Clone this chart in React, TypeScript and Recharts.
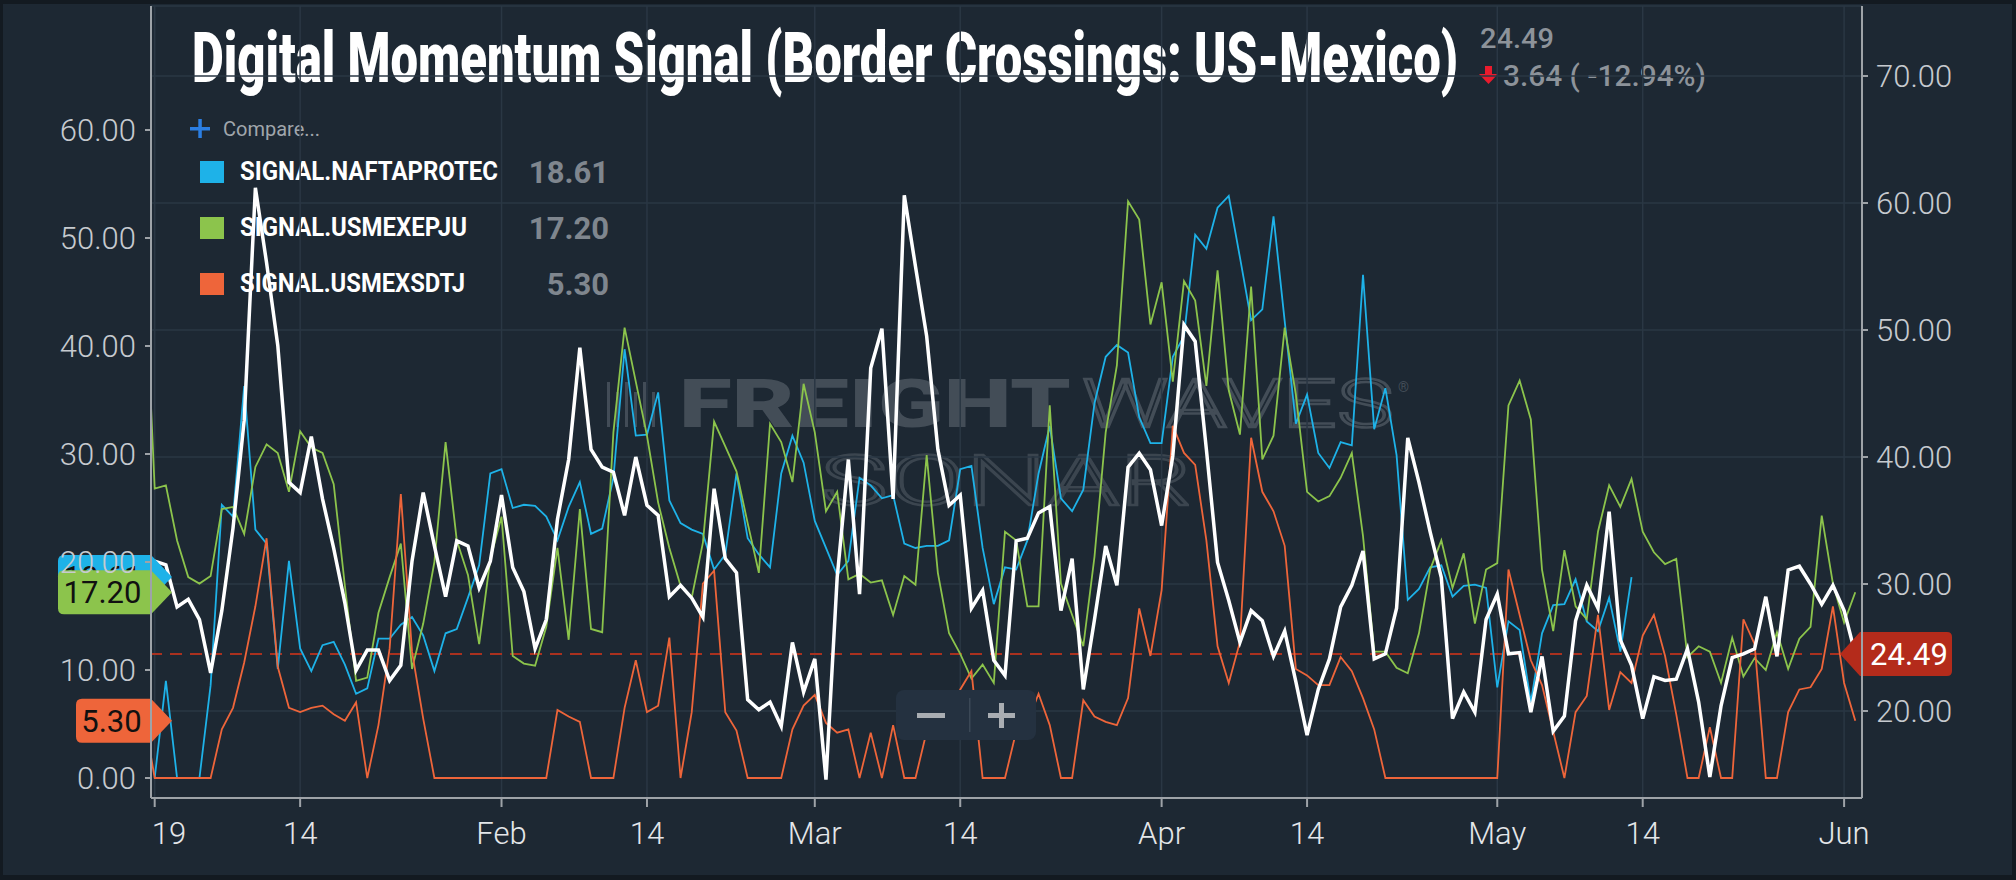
import React from 'react';
import { LineChart, Line, XAxis, YAxis, CartesianGrid, ReferenceLine } from 'recharts';

// day index counted from Jan 1 2019 (the first row, Dec 31, sits just left of the window)
const DAYS = Array.from({ length: 154 }, (_, i) => i - 1);

const X_TICKS = [0, 13, 31, 44, 59, 72, 90, 103, 120, 133, 151];
const X_LABELS = ['19', '14', 'Feb', '14', 'Mar', '14', 'Apr', '14', 'May', '14', 'Jun'];
const LEFT_TICKS = [0, 10, 20, 30, 40, 50, 60];
const RIGHT_TICKS = [20, 30, 40, 50, 60, 70];

// Digital Momentum Signal, right scale
const MOMENTUM = [
  null,
  31.8, 31.5, 28.2, 28.8, 27.2, 23.0, 27.9, 34.4, 42.9, 61.2,
  55.3, 48.8, 38.0, 37.2, 41.6, 36.7, 32.8, 28.5, 23.2, 24.8,
  24.8, 22.4, 23.6, 31.8, 37.2, 33.0, 29.0, 33.4, 33.0, 29.7,
  31.8, 37.0, 31.3, 29.4, 24.9, 27.2, 35.1, 39.8, 48.6, 40.6,
  39.2, 38.8, 35.4, 40.0, 36.2, 35.4, 29.0, 29.9, 28.9, 27.4,
  37.5, 32.0, 30.9, 20.9, 20.1, 20.7, 18.8, 25.4, 21.5, 24.1,
  14.6, 30.5, 39.8, 29.2, 47.0, 50.1, 36.7, 60.6, 55.0, 49.5,
  40.6, 36.2, 37.0, 28.1, 29.5, 24.0, 22.8, 33.4, 33.6, 35.6,
  36.1, 27.9, 32.0, 21.7, 27.2, 33.0, 29.9, 39.2, 40.3, 39.0,
  34.6, 40.1, 50.4, 49.1, 40.6, 31.7, 28.7, 25.4, 27.9, 27.1,
  24.3, 26.3, 22.3, 18.1, 21.7, 24.1, 28.2, 29.9, 32.6, 24.1,
  24.5, 28.1, 41.5, 38.0, 34.1, 30.5, 19.4, 21.5, 19.9, 27.2,
  29.2, 24.5, 24.6, 19.9, 24.3, 18.4, 19.6, 27.1, 29.9, 28.1,
  35.7, 25.6, 23.6, 19.4, 22.7, 22.4, 22.5, 24.9, 20.7, 14.8,
  20.4, 24.2, 24.5, 24.9, 29.0, 24.3, 31.1, 31.4, 30.0, 28.4,
  29.9, 27.9, 24.49,
];

// SIGNAL.NAFTAPROTEC, left scale (ends May 13)
const NAFTAPROTEC = [
  null,
  0, 9.0, 0, 0, 0, 8.6, 25.3, 24.2, 36.3, 23.0,
  21.7, 10.1, 20.1, 12.0, 9.9, 12.3, 12.6, 10.5, 7.8, 8.3,
  12.9, 12.9, 14.2, 14.9, 13.2, 9.9, 13.4, 13.8, 16.7, 19.7,
  28.2, 28.6, 25.0, 25.3, 25.2, 24.2, 22.0, 25.1, 27.4, 22.6,
  23.1, 27.8, 39.7, 31.7, 31.8, 35.7, 25.7, 23.6, 23.0, 22.6,
  19.3, 20.7, 28.2, 22.2, 20.7, 19.5, 28.2, 31.7, 29.2, 23.8,
  21.3, 18.8, 20.1, 27.8, 27.1, 25.9, 26.2, 21.7, 21.3, 21.5,
  21.5, 22.0, 28.6, 28.9, 21.3, 16.1, 19.5, 19.3, 22.0, 28.2,
  32.6, 25.9, 24.7, 26.7, 34.7, 39.0, 40.1, 39.4, 33.4, 31.0,
  31.0, 39.0, 40.9, 50.3, 49.0, 52.8, 53.9, 48.2, 42.4, 43.4,
  52.0, 42.3, 32.8, 35.5, 30.1, 28.7, 31.1, 30.8, 46.6, 32.3,
  36.1, 29.9, 16.5, 17.5, 19.5, 19.7, 16.8, 17.8, 17.9, 17.6,
  8.4, 14.5, 13.7, 7.0, 13.4, 16.0, 16.1, 18.4, 14.5, 13.6,
  16.7, 11.7, 18.61,
];

// SIGNAL.USMEXEPJU, left scale
const USMEXEPJU = [
  50,
  26.8, 27.1, 22.0, 18.6, 18.0, 18.7, 24.9, 25.1, 22.6, 28.8,
  30.9, 30.1, 26.5, 32.1, 30.6, 30.1, 27.2, 17.8, 9.0, 9.3,
  15.3, 18.6, 21.7, 10.1, 14.3, 20.0, 31.1, 22.0, 18.8, 12.4,
  20.3, 24.2, 11.3, 10.6, 10.4, 14.0, 21.3, 12.8, 24.9, 13.8,
  13.5, 32.0, 41.7, 36.7, 31.7, 25.5, 21.3, 17.8, 16.7, 21.8,
  33.0, 30.7, 28.4, 23.6, 19.0, 32.8, 31.1, 27.4, 36.5, 32.0,
  24.7, 26.5, 18.4, 18.9, 18.1, 18.3, 15.1, 18.7, 17.9, 29.9,
  19.0, 13.4, 11.5, 9.2, 10.5, 8.8, 22.8, 22.0, 15.9, 15.9,
  34.5, 18.0, 15.1, 12.2, 20.5, 32.0, 38.2, 53.4, 51.7, 42.0,
  45.9, 36.7, 46.0, 44.2, 36.3, 47.0, 35.9, 31.8, 45.5, 29.5,
  31.7, 41.7, 35.5, 26.5, 25.6, 26.1, 27.8, 30.1, 22.4, 11.7,
  11.7, 10.2, 9.7, 13.4, 19.3, 22.0, 17.6, 20.8, 14.3, 19.3,
  19.9, 34.5, 36.8, 33.2, 19.3, 13.6, 21.1, 15.9, 14.7, 22.8,
  27.1, 25.1, 27.7, 22.8, 20.9, 19.8, 20.3, 11.2, 12.2, 11.7,
  8.8, 13.0, 9.4, 11.1, 10.0, 13.5, 10.1, 12.9, 14.0, 24.3,
  18.0, 14.4, 17.2,
];

// SIGNAL.USMEXSDTJ, left scale
const USMEXSDTJ = [
  6,
  0, 0, 0, 0, 0, 0, 4.5, 6.5, 10.7, 15.9,
  22.2, 10.3, 6.5, 6.1, 6.5, 6.7, 5.9, 5.3, 7.0, 0,
  4.9, 12.0, 26.3, 11.7, 5.5, 0, 0, 0, 0, 0,
  0, 0, 0, 0, 0, 0, 6.3, 5.7, 5.2, 0,
  0, 0, 6.5, 10.9, 6.1, 6.7, 13.0, 0, 6.1, 18.0,
  19.2, 6.1, 4.4, 0, 0, 0, 0, 4.5, 6.7, 7.7,
  5.1, 4.2, 4.5, 0, 4.2, 0, 4.9, 0, 0, 4.3,
  5.1, 5.5, 8.2, 9.9, 0, 0, 0, 4.3, 5.1, 7.8,
  4.9, 0, 0, 7.2, 5.7, 5.2, 4.9, 7.4, 15.7, 11.3,
  17.4, 32.6, 30.1, 29.0, 22.0, 12.2, 8.8, 12.6, 31.5, 26.5,
  24.7, 21.5, 10.1, 9.5, 8.6, 8.6, 11.2, 9.9, 7.4, 4.5,
  0, 0, 0, 0, 0, 0, 0, 0, 0, 0,
  0, 19.3, 15.1, 10.9, 8.6, 4.3, 0, 6.1, 7.6, 15.1,
  6.3, 9.8, 8.8, 13.2, 15.1, 11.3, 5.9, 0, 0, 4.7,
  0, 0, 14.7, 12.4, 0, 0, 6.1, 8.2, 8.4, 10.1,
  15.9, 8.8, 5.3,
];

const SERIES_NAMES = ['SIGNAL.NAFTAPROTEC', 'SIGNAL.USMEXEPJU', 'SIGNAL.USMEXSDTJ'];
const SERIES_COLORS = ['#1eb2e8', '#8cc44c', '#ee653a'];
const LAST_MOMENTUM = 24.49;
const CHANGE_TEXT = '3.64 ( -12.94%)';

const lastOf = (arr: (number | null)[]) => {
  for (let i = arr.length - 1; i >= 0; i--) if (arr[i] != null) return arr[i] as number;
  return 0;
};
const SERIES_LAST = [lastOf(NAFTAPROTEC), lastOf(USMEXEPJU), lastOf(USMEXSDTJ)];

const rows = DAYS.map((d, i) => ({
  d,
  momentum: MOMENTUM[i],
  nafta: NAFTAPROTEC[i],
  epju: USMEXEPJU[i],
  sdtj: USMEXSDTJ[i],
}));

const FONT = 'Roboto, "Noto Sans", sans-serif';
const BG = '#1d2833';
const GRID = '#2a3744';
const AXIS = '#9ea3a8';

const DateTick = (props: any) => {
  const { x, y, payload } = props;
  const idx = X_TICKS.indexOf(payload.value);
  const first = idx === 0;
  return (
    <text x={first ? x - 3 : x} y={y} dy="0.71em" textAnchor={first ? 'start' : 'middle'}
      fill="#e4e6e9" fontSize={31} fontWeight={300} fontFamily={FONT}>
      {X_LABELS[idx] ?? ''}
    </text>
  );
};

// value tag sitting on the left axis, pointing into the plot
const LeftTag = (props: any) => {
  const { viewBox, text, color } = props;
  if (!viewBox) return null;
  const x0 = viewBox.x;
  const y = viewBox.y;
  const w = text.length * 18 + 3;
  const h = 22;
  const d = `M${x0},${y - h} L${x0 - w + 6},${y - h} Q${x0 - w},${y - h} ${x0 - w},${y - h + 6} L${x0 - w},${y + h - 6} Q${x0 - w},${y + h} ${x0 - w + 6},${y + h} L${x0},${y + h} L${x0 + 21},${y} Z`;
  return (
    <g>
      <path d={d} fill={color} />
      <text x={x0 - w / 2 - 2} y={y + 11} textAnchor="middle" fill="#111" fontSize={31} fontFamily={FONT} fontWeight={400}>
        {text}
      </text>
    </g>
  );
};

// value tag on the right axis
const RightTag = (props: any) => {
  const { viewBox, text } = props;
  if (!viewBox) return null;
  const x1 = viewBox.x + viewBox.width;
  const y = viewBox.y;
  const w = 90;
  const h = 22;
  const d = `M${x1 - 2},${y - h} L${x1 + w - 5},${y - h} Q${x1 + w},${y - h} ${x1 + w},${y - h + 5} L${x1 + w},${y + h - 5} Q${x1 + w},${y + h} ${x1 + w - 5},${y + h} L${x1 - 2},${y + h} L${x1 - 22},${y} Z`;
  return (
    <g>
      <path d={d} fill="#b42b1b" />
      <text x={x1 + w / 2 + 2} y={y + 11} textAnchor="middle" fill="#fff" fontSize={31} fontFamily={FONT} fontWeight={400}>
        {text}
      </text>
    </g>
  );
};

function Backdrop() {
  const names = [258, 227, 225];
  return (
    <svg width={2016} height={880} style={{ position: 'absolute', left: 0, top: 0 }}>
      {/* watermark */}
      <g opacity={0.9}>
        {[0, 1, 2, 3, 4, 5].map((i) => (
          <rect key={i} x={607 + i * 9} y={i % 2 ? 392 : 382} width={3} height={i % 2 ? 35 : 45} fill="#47515b" />
        ))}
        <text x={679} y={427} fontSize={66} fontWeight={900} fontFamily={FONT} fill="#48525c"
          textLength={392} lengthAdjust="spacingAndGlyphs">FREIGHT</text>
        <text x={1082} y={427} fontSize={66} fontWeight={300} fontFamily={FONT} fill="none" stroke="#48525c" strokeWidth={2.5}
          textLength={312} lengthAdjust="spacingAndGlyphs">WAVES</text>
        <text x={1398} y={392} fontSize={14} fontFamily={FONT} fill="#48525c">®</text>
        <text x={820} y={505} fontSize={70} fontWeight={300} fontFamily={FONT} fill="none" stroke="#3f4953" strokeWidth={2.5}
          textLength={372} lengthAdjust="spacingAndGlyphs">SONAR</text>
      </g>

      {/* title: tall condensed look from a vertical stretch */}
      <g transform="translate(192,82) scale(1,1.79)">
        <text x={0} y={0} fontSize={39} fontWeight={900} fontFamily={FONT} fill="#fff"
          textLength={1266} lengthAdjust="spacingAndGlyphs">
          Digital Momentum Signal (Border Crossings: US-Mexico)
        </text>
      </g>
      <text x={1480} y={48} fontSize={28} fontWeight={500} fontFamily={FONT} fill="#8d939a"
        textLength={74} lengthAdjust="spacingAndGlyphs">{LAST_MOMENTUM.toFixed(2)}</text>
      <rect x={1485} y={66} width={7} height={9} fill="#ea1b2d" />
      <polygon points="1479,74 1498,74 1488.5,84" fill="#ea1b2d" />
      <text x={1503} y={86} fontSize={29} fontWeight={500} fontFamily={FONT} fill="#8d939a"
        textLength={203} lengthAdjust="spacingAndGlyphs">{CHANGE_TEXT}</text>

      {/* legend */}
      <rect x={190} y={127} width={20} height={3.5} fill="#2b7ee2" />
      <rect x={198.3} y={119} width={3.5} height={19} fill="#2b7ee2" />
      <text x={223} y={136} fontSize={20} fontFamily={FONT} fill="#a0a6ac">Compare...</text>
      {SERIES_NAMES.map((n, i) => (
        <g key={n}>
          <rect x={200} y={161 + i * 56} width={24} height={22} fill={SERIES_COLORS[i]} />
          <text x={240} y={180 + i * 56} fontSize={25} fontWeight={700} fontFamily={FONT} fill="#fff"
            textLength={names[i]} lengthAdjust="spacingAndGlyphs">{n}</text>
          <text x={609} y={183 + i * 56} fontSize={31} fontWeight={700} fontFamily={FONT} fill="#7f868e" textAnchor="end">
            {SERIES_LAST[i].toFixed(2)}
          </text>
        </g>
      ))}
    </svg>
  );
}

function ZoomControl() {
  return (
    <svg width={140} height={50} style={{ position: 'absolute', left: 896, top: 690 }}>
      <rect x={0} y={0} width={140} height={50} rx={8} fill="#243140" />
      <rect x={21} y={23} width={28} height={5} fill="#a9adb2" />
      <rect x={73} y={8} width={1.5} height={34} fill="#3b4856" />
      <rect x={92} y={23} width={27} height={5} fill="#a9adb2" />
      <rect x={103} y={13} width={5} height={25} fill="#a9adb2" />
    </svg>
  );
}

export default function App() {
  const yTick = { fill: '#c6cacf', fontSize: 31, fontWeight: 300, fontFamily: FONT };
  return (
    <div style={{ position: 'absolute', left: 0, top: 0, width: 2016, height: 880, background: '#131a21', overflow: 'hidden' }}>
      <div style={{ position: 'absolute', left: 3, top: 4, right: 4, bottom: 5, background: BG }} />
      <Backdrop />
      <div style={{ position: 'absolute', left: 0, top: 0 }}>
        <LineChart width={2016} height={880} data={rows} margin={{ top: 6, right: 0, bottom: 0, left: 0 }}>
          <CartesianGrid yAxisId="right" stroke={GRID} strokeWidth={1.5} />
          <XAxis dataKey="d" type="number" domain={[-0.33, 152.6]} allowDataOverflow ticks={X_TICKS}
            interval={0} height={82} tickSize={9} tickMargin={15}
            axisLine={{ stroke: AXIS, strokeWidth: 2 }} tickLine={{ stroke: AXIS, strokeWidth: 2 }} tick={<DateTick />} />
          <YAxis yAxisId="left" orientation="left" width={151} domain={[-1.85, 71.48]} allowDataOverflow
            ticks={LEFT_TICKS} interval={0} tickSize={6} tickMargin={9} tickFormatter={(v: number) => v.toFixed(2)}
            axisLine={{ stroke: AXIS, strokeWidth: 2 }} tickLine={{ stroke: AXIS, strokeWidth: 2 }} tick={yTick} />
          <YAxis yAxisId="right" orientation="right" width={154} domain={[13.15, 75.51]} allowDataOverflow
            ticks={RIGHT_TICKS} interval={0} tickSize={6} tickMargin={8} tickFormatter={(v: number) => v.toFixed(2)}
            axisLine={{ stroke: AXIS, strokeWidth: 2 }} tickLine={{ stroke: AXIS, strokeWidth: 2 }} tick={yTick} />
          <ReferenceLine yAxisId="right" y={LAST_MOMENTUM} stroke="#a9311f" strokeWidth={2} strokeDasharray="12 8" />
          <Line yAxisId="left" dataKey="nafta" stroke={SERIES_COLORS[0]} strokeWidth={1.8} dot={false} activeDot={false} isAnimationActive={false} />
          <Line yAxisId="left" dataKey="epju" stroke={SERIES_COLORS[1]} strokeWidth={1.8} dot={false} activeDot={false} isAnimationActive={false} />
          <Line yAxisId="left" dataKey="sdtj" stroke={SERIES_COLORS[2]} strokeWidth={1.8} dot={false} activeDot={false} isAnimationActive={false} />
          <Line yAxisId="right" dataKey="momentum" stroke="#ffffff" strokeWidth={3.5} dot={false} activeDot={false} isAnimationActive={false} />
          <ReferenceLine yAxisId="left" y={SERIES_LAST[0]} stroke="none"
            label={<LeftTag text={SERIES_LAST[0].toFixed(2)} color={SERIES_COLORS[0]} />} />
          <ReferenceLine yAxisId="left" y={SERIES_LAST[1]} stroke="none"
            label={<LeftTag text={SERIES_LAST[1].toFixed(2)} color={SERIES_COLORS[1]} />} />
          <ReferenceLine yAxisId="left" y={SERIES_LAST[2]} stroke="none"
            label={<LeftTag text={SERIES_LAST[2].toFixed(2)} color={SERIES_COLORS[2]} />} />
          <ReferenceLine yAxisId="right" y={LAST_MOMENTUM} stroke="none"
            label={<RightTag text={LAST_MOMENTUM.toFixed(2)} />} />
        </LineChart>
      </div>
      <ZoomControl />
    </div>
  );
}
